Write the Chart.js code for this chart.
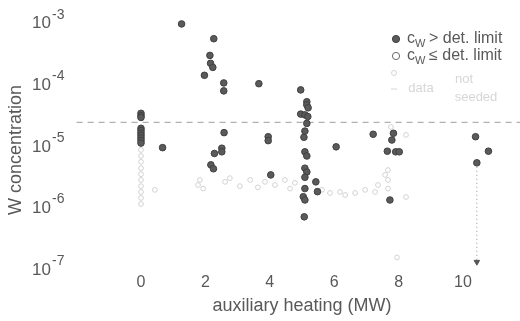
<!DOCTYPE html>
<html>
<head>
<meta charset="utf-8">
<script src="https://cdn.jsdelivr.net/npm/chart.js@4.4.1/dist/chart.umd.min.js"></script>
<style>
  html, body { margin: 0; padding: 0; background: #fff; }
  #wrap { width: 520px; height: 321px; }
</style>
</head>
<body>
<div id="wrap"><canvas id="chart"></canvas></div>
<script>
// heating (MW) and W concentration for discharges with c_W above the detection limit
const aboveHeat = [
  0, 0, 0, 0, 0, 0, 0, 0, 0, 0,
  0.67, 1.26, 1.97, 2.14, 2.16, 2.23, 2.26, 2.57, 2.57,
  2.58, 2.51, 2.51, 2.28, 2.17, 2.25,
  3.66, 3.95, 3.95, 4.03,
  4.96, 5.15, 5.15, 5.19, 4.96, 5.09, 5.18, 5.15, 5.09, 5.06,
  5.09, 5.15, 5.09, 5.15, 5.09, 5.43, 5.48, 5.09, 5.04, 5.09, 5.07,
  6.06,
  7.21, 7.84, 7.79, 7.65, 7.91, 8.02, 7.73,
  10.39, 10.79, 10.43
];
const aboveConc = [
  3.5e-5, 3.2e-5, 3.0e-5, 2.0e-5, 1.84e-5, 1.67e-5, 1.53e-5, 1.39e-5, 1.27e-5, 1.15e-5,
  9.7e-6, 9.9e-4, 1.45e-4, 3.05e-4, 2.27e-4, 1.95e-4, 5.7e-4, 1.09e-4, 8.1e-5,
  1.7e-5, 9.5e-6, 8.3e-6, 7.8e-6, 5.1e-6, 4.4e-6,
  1.06e-4, 1.46e-5, 1.26e-5, 3.5e-6,
  8.4e-5, 5.4e-5, 4.8e-5, 4.3e-5, 3.4e-5, 3.3e-5, 3.1e-5, 2.4e-5, 1.8e-5, 1.43e-5,
  8.3e-6, 7.1e-6, 4.5e-6, 3.9e-6, 3.2e-6, 2.7e-6, 1.87e-6, 2.1e-6, 1.55e-6, 1.37e-6, 7.3e-7,
  1.0e-5,
  1.6e-5, 1.66e-5, 1.29e-5, 8.5e-6, 8.3e-6, 8.3e-6, 1.37e-6,
  1.46e-5, 8.5e-6, 5.5e-6
];

// faint points (below limit / not seeded)
const faintHeat = [
  0, 0, 0, 0, 0, 0, 0, 0, 0, 0,
  0.43, 1.83, 1.77, 1.93, 2.61, 2.76, 3.07, 3.39, 3.63, 3.85,
  4.16, 4.47, 4.63, 4.78, 5.62, 5.87, 6.18, 6.34, 6.65, 6.96, 7.27,
  7.58, 7.67, 7.67, 7.67, 7.76, 8.23, 8.23, 7.36, 7.95
];
const faintConc = [
  8.9e-6, 7.1e-6, 5.7e-6, 4.5e-6, 3.6e-6, 2.9e-6, 2.3e-6, 1.85e-6, 1.48e-6, 1.18e-6,
  2.0e-6, 2.9e-6, 2.4e-6, 2.1e-6, 2.7e-6, 3.1e-6, 2.3e-6, 2.9e-6, 2.2e-6, 2.7e-6,
  2.4e-6, 2.9e-6, 2.1e-6, 2.6e-6, 2.0e-6, 1.78e-6, 1.85e-6, 1.65e-6, 1.78e-6, 2.0e-6, 1.85e-6,
  3.5e-6, 4.2e-6, 2.9e-6, 2.1e-6, 2.1e-5, 1.56e-5, 1.53e-6, 2.4e-6, 1.6e-7
];

const detLimit = 2.5e-5;
const arrowHeat = 10.43;
const arrowConc = [5.5e-6, 1.35e-7];

const xTicks = [0, 2, 4, 6, 8, 10];
const yExponents = [-7, -6, -5, -4, -3];

const textColor = "#595959";
const fontFamily = "'Liberation Sans', Arial, Helvetica, sans-serif";

function toPoints(xs, ys) {
  return xs.map((x, i) => ({ x: x, y: ys[i] }));
}

const decorations = {
  id: "decorations",
  afterDraw(chart) {
    const ctx = chart.ctx;
    const yScale = chart.scales.y;
    ctx.save();
    ctx.fillStyle = textColor;

    // y tick labels 10^n
    yExponents.forEach((e) => {
      const y = yScale.getPixelForValue(Math.pow(10, e));
      ctx.font = "17px " + fontFamily;
      ctx.textAlign = "right";
      ctx.textBaseline = "middle";
      ctx.fillText("10", 51, y);
      ctx.font = "14px " + fontFamily;
      ctx.textAlign = "left";
      ctx.fillText(String(e), 52, y - 9);
    });

    // y title
    ctx.save();
    ctx.translate(16, 150);
    ctx.rotate(-Math.PI / 2);
    ctx.font = "18px " + fontFamily;
    ctx.textAlign = "center";
    ctx.textBaseline = "middle";
    ctx.fillText("W concentration", 0, 0);
    ctx.restore();

    // legend
    const rows = [
      { y: 39, filled: true, sym: ">" },
      { y: 56, filled: false, sym: "\u2264" },
    ];
    rows.forEach((r) => {
      ctx.beginPath();
      ctx.arc(396, r.y, 3.6, 0, Math.PI * 2);
      ctx.lineWidth = 1;
      ctx.strokeStyle = r.filled ? "#404040" : "#6a6a6a";
      ctx.fillStyle = r.filled ? "#5a5a5a" : "#fff";
      ctx.fill();
      ctx.stroke();
      ctx.fillStyle = textColor;
      ctx.textAlign = "left";
      ctx.textBaseline = "middle";
      ctx.font = "16px " + fontFamily;
      ctx.fillText("c", 407, r.y);
      ctx.font = "11px " + fontFamily;
      ctx.fillText("W", 415, r.y + 5);
      ctx.font = "16px " + fontFamily;
      ctx.fillText(r.sym + " det. limit", 429, r.y);
    });

    // faint "data not seeded" entry
    ctx.strokeStyle = "#d6d6d6";
    ctx.beginPath();
    ctx.arc(394, 73, 2.5, 0, Math.PI * 2);
    ctx.stroke();
    ctx.beginPath();
    ctx.moveTo(391, 89);
    ctx.lineTo(397, 89);
    ctx.stroke();
    ctx.fillStyle = "#d6d6d6";
    ctx.font = "13px " + fontFamily;
    ctx.textAlign = "center";
    ctx.fillText("data", 421, 88);
    ctx.fillText("not", 464, 79);
    ctx.fillText("seeded", 476, 97);
    ctx.restore();
  },
};

new Chart(document.getElementById("chart"), {
  type: "scatter",
  data: {
    datasets: [
      {
        label: "cW > det. limit",
        data: toPoints(aboveHeat, aboveConc),
        pointRadius: 3.3,
        pointHoverRadius: 3.3,
        backgroundColor: "#5a5a5a",
        borderColor: "#404040",
        borderWidth: 1,
      },
      {
        label: "arrow",
        data: arrowConc.map((c) => ({ x: arrowHeat, y: c })),
        showLine: true,
        borderColor: "#9a9a9a",
        borderWidth: 1,
        borderDash: [1, 3],
        pointRadius: [0, 3.2],
        pointStyle: "triangle",
        rotation: 180,
        backgroundColor: "#555",
        pointBorderColor: "#555",
      },
      {
        label: "det. limit",
        data: [{ x: -2, y: detLimit }, { x: 12, y: detLimit }],
        showLine: true,
        clip: false,
        borderColor: "#b0b0b0",
        borderWidth: 1.2,
        borderDash: [6, 5],
        pointRadius: 0,
      },
      {
        label: "not seeded",
        data: toPoints(faintHeat, faintConc),
        pointRadius: 2.4,
        backgroundColor: "rgba(255,255,255,0)",
        borderColor: "#d2d2d2",
        borderWidth: 1,
      },
    ],
  },
  options: {
    responsive: true,
    maintainAspectRatio: false,
    animation: false,
    layout: { padding: { left: 0, right: 8.7, top: 17.5, bottom: 0 } },
    plugins: {
      legend: { display: false },
      tooltip: { enabled: false },
    },
    scales: {
      x: {
        type: "linear",
        min: -1.5,
        max: 11.5,
        grid: { display: false, drawTicks: false },
        border: { display: false },
        afterBuildTicks: (axis) => {
          axis.ticks = xTicks.map((v) => ({ value: v }));
        },
        afterFit: (axis) => {
          axis.height = 51;
        },
        ticks: {
          color: textColor,
          font: { family: fontFamily, size: 16 },
          padding: 3,
          maxRotation: 0,
        },
        title: {
          display: true,
          text: "auxiliary heating (MW)",
          color: textColor,
          font: { family: fontFamily, size: 18 },
          padding: { top: 0, bottom: 4 },
        },
      },
      y: {
        type: "logarithmic",
        min: 1e-7,
        max: Math.pow(10, -2.9),
        grid: { display: false, drawTicks: false },
        border: { display: false },
        ticks: { display: false },
        afterFit: (axis) => {
          axis.width = 92.7;
        },
      },
    },
  },
  plugins: [decorations],
});
</script>
</body>
</html>
